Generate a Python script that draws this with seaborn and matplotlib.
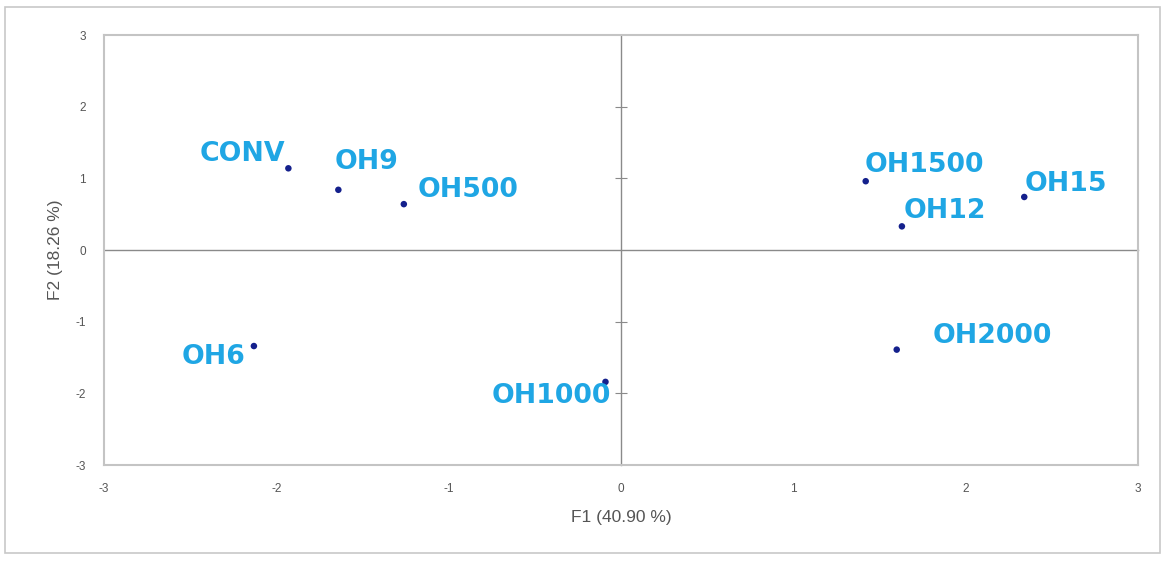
import matplotlib
matplotlib.use("Agg")
import matplotlib.pyplot as plt
from matplotlib.patches import Rectangle
import seaborn as sns
import pandas as pd

# PCA scores of each treatment on the first two factors
samples = ["CONV", "OH9", "OH500", "OH6", "OH1000", "OH1500", "OH12", "OH15", "OH2000"]
f1_scores = [-1.93, -1.64, -1.26, -2.13, -0.09, 1.42, 1.63, 2.34, 1.60]
f2_scores = [1.14, 0.84, 0.64, -1.34, -1.84, 0.96, 0.33, 0.74, -1.39]
ticks = [-3, -2, -1, 0, 1, 2, 3]

# label offsets (points) relative to each observation
label_dx = [-64, -3, 10, -52, -82, -1, 1, 0, 26]
label_dy = [10, 20, 10, -8, -10, 12, 11, 9, 10]

df = pd.DataFrame({"F1": f1_scores, "F2": f2_scores, "sample": samples})

sns.set_style("white")
plt.rcParams["font.family"] = ["Liberation Sans", "DejaVu Sans"]
plt.rcParams["axes.unicode_minus"] = False

fig = plt.figure(figsize=(11.63, 5.61), dpi=100)
ax = fig.add_axes([0.0894, 0.1711, 0.8891, 0.7665])

sns.scatterplot(data=df, x="F1", y="F2", ax=ax, color="#14208c", s=22,
                edgecolor="none", legend=False, zorder=4)

label_color = "#1fa6e4"
for name, x, y, dx, dy in zip(samples, f1_scores, f2_scores, label_dx, label_dy):
    ax.annotate(name, (x, y), xytext=(dx, dy), textcoords="offset points",
                color=label_color, fontsize=19.3, fontweight="bold",
                family="DejaVu Sans", ha="left", va="center", zorder=5)

ax.set_xlim(-3, 3)
ax.set_ylim(-3, 3)
ax.set_xticks(ticks)
ax.set_yticks(ticks)
ax.tick_params(length=0, labelsize=8.5, labelcolor="#555555", pad=13)
ax.set_xlabel("F1 (40.90 %)", fontsize=12.5, color="#555555", labelpad=11)
ax.set_ylabel("F2 (18.26 %)", fontsize=12.5, color="#555555", labelpad=9)
for sp in ax.spines.values():
    sp.set_color("#c4c4c4")
    sp.set_linewidth(1.5)

# overlay with the zero axes; only the vertical one carries cross ticks
ax0 = fig.add_axes(ax.get_position(), frameon=True, facecolor="none")
ax0.set_xlim(-3, 3)
ax0.set_ylim(-3, 3)
ax0.set_xticks([])
ax0.set_yticks([t for t in ticks if t not in (-3, 0, 3)])
ax0.set_yticklabels([])
for side in ("top", "right"):
    ax0.spines[side].set_visible(False)
for side in ("left", "bottom"):
    ax0.spines[side].set_position("zero")
    ax0.spines[side].set_color("#8a8a8a")
    ax0.spines[side].set_linewidth(1.0)
ax0.tick_params(bottom=False, left=True, top=False, right=False,
                direction="inout", length=9, width=0.8, color="#8a8a8a")
ax0.set_zorder(ax.get_zorder() - 1)
ax.set_facecolor("none")

# outer chart border
fig.add_artist(Rectangle((5 / 1163, 1 - 553 / 561), 1155 / 1163, 546 / 561,
                         transform=fig.transFigure, fill=False,
                         edgecolor="#c8c8c8", linewidth=1.2))

fig.savefig("out.png", dpi=100, facecolor="white")
